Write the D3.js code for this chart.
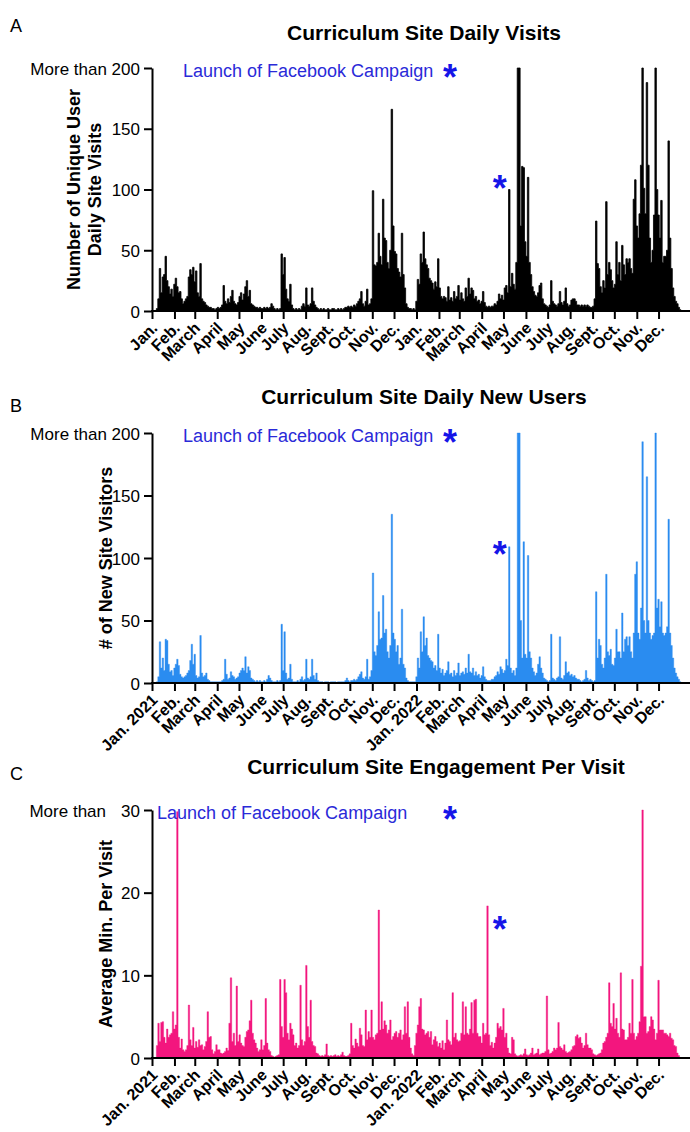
<!DOCTYPE html>
<meta charset="utf-8">
<style>
body { margin: 0; background: #fff; }
svg { display: block; }
text { font-family: "Liberation Sans", Arial, Helvetica, sans-serif; fill: #000; }
.letter { font-size: 18px; }
.title { font-size: 21px; font-weight: bold; }
.ylabel { font-size: 18px; font-weight: bold; }
.launch { font-size: 18px; fill: #2a2ad8; }
.star { font-size: 36px; font-weight: bold; fill: #1515e8; }
.yaxis text { font-size: 17px; }
.xaxis text { font-size: 16px; font-weight: bold; }
.axis path, .axis line { stroke: #000; stroke-width: 2px; }
</style>
<body>
<svg width="690" height="1132"></svg>
<script src="https://d3js.org/d3.v7.min.js"></script>
<script>

// one value per 2-day bin, starting Jan 1 2021 (365 bins)
var visits = [
  0,0,0,2,10,35,15,28,30,45,
  25,20,14,18,12,22,27,20,15,16,
  10,6,8,10,12,28,34,30,36,24,
  33,15,12,39,10,8,7,5,4,3,
  3,2,2,1,2,3,2,3,5,21,
  8,6,10,7,12,17,8,6,5,7,
  12,15,9,14,20,25,12,17,6,5,
  4,3,3,2,3,2,2,3,2,3,
  2,3,6,4,2,1,2,1,2,47,
  30,44,18,10,8,22,5,2,1,2,
  1,2,1,4,6,4,19,5,4,6,
  19,8,5,3,2,1,
  2,1,2,1,1,2,1,1,2,2,1,1,2,1,2,1,
  2,3,3,4,3,4,3,5,
  4,6,8,10,16,6,4,8,18,5,
  6,10,99,38,37,40,64,45,38,92,
  60,58,40,35,50,166,70,49,47,35,
  32,28,64,30,19,6,3,2,2,1,
  2,1,8,26,22,47,40,65,43,38,
  35,27,25,23,18,24,20,43,19,12,
  10,12,11,8,20,9,11,8,16,10,
  12,21,9,15,10,8,19,12,27,14,
  19,17,10,12,8,9,6,8,16,7,
  4,3,4,3,4,4,6,5,8,14,
  10,13,9,19,21,15,100,20,31,22,
  18,40,200,200,70,119,118,57,45,110,
  40,30,20,16,13,12,15,21,23,10,
  6,5,4,3,5,25,8,6,5,4,
  6,16,7,5,8,19,6,4,5,9,
  10,10,8,5,5,4,5,4,5,4,
  5,4,3,3,4,10,74,39,35,20,
  15,25,19,90,30,40,34,25,19,22,
  57,30,40,25,54,38,30,43,40,43,
  35,31,92,108,70,60,80,120,200,101,
  80,188,120,60,40,50,79,200,100,79,
  60,91,40,45,45,50,140,60,35,19,
  12,8,6,3,1
];

var newUsers = [
  0,0,0,1,5,33,12,20,10,35,
  34,15,9,10,6,12,15,19,14,7,
  5,4,5,6,8,10,18,31,15,23,
  6,4,5,38,8,5,6,8,3,2,
  1,1,1,1,1,1,1,1,2,3,
  19,7,3,4,9,6,5,3,4,5,
  8,10,12,10,21,8,13,10,4,3,
  2,1,2,1,2,1,1,2,1,3,
  6,4,2,1,1,1,2,1,2,47,
  10,41,8,3,4,15,3,1,1,1,
  2,1,3,5,2,3,19,4,3,5,
  19,6,3,8,2,1,
  1,1,0,1,1,1,0,1,1,1,1,0,1,1,1,1,
  1,2,4,2,1,2,2,3,
  2,3,5,7,9,4,3,5,19,3,
  5,10,88,25,22,30,57,35,36,70,
  40,43,25,20,30,135,40,35,25,30,
  15,20,59,15,12,4,2,1,1,1,
  1,1,5,20,12,41,25,53,30,36,
  22,20,18,17,12,14,10,39,12,8,
  11,6,8,10,17,7,8,5,10,6,
  8,16,6,8,9,7,12,8,23,9,
  8,12,6,9,6,7,4,6,13,5,
  3,2,2,2,3,3,5,6,9,7,
  13,11,8,10,19,14,109,12,8,10,
  6,12,200,200,50,20,113,23,20,102,
  25,20,12,9,6,8,15,21,12,8,
  4,3,2,1,2,39,4,3,2,4,
  5,37,4,3,6,17,8,9,6,7,
  5,6,4,3,3,2,1,2,3,10,
  4,2,3,2,1,2,73,20,35,30,
  15,12,20,87,25,22,27,15,14,20,
  43,25,25,20,56,25,35,37,30,37,
  25,20,40,87,97,40,35,60,193,50,
  40,165,50,40,35,38,40,200,60,67,
  45,65,40,38,40,45,131,40,30,20,
  12,8,5,3,1
];

var minutes = [
  0,0,0,1.5,4.2,2.0,4.3,4.4,2.5,1.8,
  3.5,2.5,2.8,3.0,5.6,3.5,4.0,29.8,2.5,1.2,
  2.3,1.0,0.8,1.0,1.5,6.4,2.2,1.5,3.7,1.2,
  2.0,1.3,2.2,1.5,1.6,1.0,1.4,2.0,5.6,2.5,
  2.6,1.0,0.5,0.8,1.6,1.0,1.0,0.6,0.5,0.6,
  0.8,1.2,0.9,4.2,9.7,2.0,3.0,1.5,8.7,2.0,
  2.8,1.8,1.5,1.4,2.5,3.2,3.4,4.5,7.0,3.0,
  2.2,1.8,1.2,0.8,1.0,2.2,1.0,1.5,7.2,1.8,
  1.0,0.8,0.3,0.2,0.1,0.2,0.3,0.4,9.5,3.8,
  2.5,9.5,7.9,3.0,2.2,4.2,3.5,2.8,1.5,1.8,
  1.2,1.5,8.8,2.2,1.5,2.0,11.2,3.8,2.5,7.0,
  2.0,1.5,1.4,0.6,0.5,0.3,
  0.2,0.3,0.2,0.4,1.7,0.3,0.2,0.3,0.2,0.3,0.4,0.2,0.3,0.2,0.4,0.7,
  0.3,0.2,0.2,0.3,0.5,4.2,1.5,1.2,
  2.3,1.8,1.4,3.6,2.8,1.5,1.4,5.8,2.2,3.2,
  2.5,5.8,2.5,2.2,2.8,3.0,17.9,3.4,6.8,3.5,
  4.5,4.0,3.0,3.4,4.6,2.2,2.6,3.0,3.2,2.5,
  3.0,3.4,2.2,2.8,6.2,3.0,6.8,2.5,1.2,0.5,
  0.3,1.5,3.0,4.0,6.2,7.2,3.5,3.4,2.8,3.0,
  3.2,2.5,3.2,1.6,2.2,2.6,2.0,1.4,1.8,1.2,
  2.1,1.0,1.8,4.6,2.2,2.0,1.6,7.9,2.5,3.0,
  2.2,2.0,2.1,3.0,6.8,2.8,6.2,3.0,2.8,3.5,
  6.7,3.0,7.0,7.1,3.0,2.6,2.6,1.8,4.2,2.8,
  3.0,18.4,2.8,1.5,1.9,1.2,1.8,2.5,4.2,3.6,
  3.8,3.4,6.0,2.5,3.0,1.2,0.6,0.5,2.5,2.2,
  0.5,0.3,0.2,0.3,0.4,0.3,0.5,1.1,0.4,0.3,
  0.4,0.6,1.2,0.4,0.5,0.6,1.1,0.4,0.5,0.6,
  0.6,0.8,7.5,1.0,0.5,0.6,0.8,1.2,1.0,1.2,
  4.3,1.4,1.2,1.0,1.6,0.8,0.6,0.7,0.8,1.0,
  1.4,1.5,2.6,2.8,2.4,2.5,1.8,1.2,1.5,3.0,
  1.6,1.2,1.2,1.0,0.5,0.4,0.3,0.4,0.5,0.6,
  1.0,1.8,2.0,2.5,3.0,9.1,4.2,3.8,6.6,3.5,
  4.8,3.0,2.5,10.3,3.5,3.4,2.2,2.2,2.5,4.2,
  3.0,9.5,3.0,2.2,2.6,3.0,4.4,11.1,30,5.0,
  5.0,3.0,3.2,3.8,5.0,4.6,3.5,2.2,3.0,9.4,
  3.4,3.4,3.4,3.0,3.0,2.8,2.6,3.0,2.4,2.2,
  1.5,1.4,0.6,0.3,0
];

var monthsA = ["Jan.","Feb.","March","April","May","June","July","Aug.","Sept.","Oct.","Nov.","Dec.",
               "Jan.","Feb.","March","April","May","June","July","Aug.","Sept.","Oct.","Nov.","Dec."];
var monthsBC = ["Jan. 2021","Feb.","March","April","May","June","July","Aug.","Sept.","Oct.","Nov.","Dec.",
                "Jan. 2022","Feb.","March","April","May","June","July","Aug.","Sept.","Oct.","Nov.","Dec."];
var ticksCount = [0, 50, 100, 150, 200];
var ticksMin = [0, 10, 20, 30];
var launchDate = new Date(2022, 3, 26);
var launchValues = [107, 109, 16.4];

var svg = d3.select("svg");
var start = new Date(2021, 0, 1), end = new Date(2023, 0, 1);
var binDays = 2;

var x = d3.scaleTime().domain([start, end]).range([152, 681]);
var monthTicks = d3.timeMonth.range(start, end);

function drawPanel(p) {
  var g = svg.append("g");
  var y = d3.scaleLinear().domain([0, p.max]).range([p.bottom, p.top]);

  var pts = p.values.map(function(v, i) {
    return { date: d3.timeDay.offset(start, i * binDays), v: Math.min(v, p.max) };
  });
  pts.push({ date: end, v: pts[pts.length - 1].v });

  var area = d3.area()
      .curve(d3.curveStepAfter)
      .x(function(d) { return x(d.date); })
      .y0(y(0))
      .y1(function(d) { return y(d.v); });

  g.append("path")
      .attr("d", area(pts))
      .attr("fill", p.color)
      .attr("stroke", p.stroke)
      .attr("stroke-width", p.strokeWidth);

  // y axis
  var ya = g.append("g")
      .attr("class", "axis yaxis")
      .attr("transform", "translate(152,0)")
      .call(d3.axisLeft(y).tickValues(p.ticks).tickSize(8).tickSizeOuter(0).tickPadding(4)
        .tickFormat(function(d) { return d === 200 ? "More than 200" : d; }));
  ya.selectAll("text").attr("dy", "0.36em");

  // x axis, line runs past the last month
  var xa = g.append("g")
      .attr("class", "axis xaxis")
      .attr("transform", "translate(0," + p.bottom + ")")
      .call(d3.axisBottom(x).tickValues(monthTicks).tickSize(8).tickSizeOuter(0).tickFormat(""));
  xa.select(".domain").remove();
  xa.append("line").attr("x1", 151).attr("x2", 690).attr("y1", 0).attr("y2", 0);
  xa.selectAll(".tick").append("text")
      .attr("text-anchor", "end")
      .attr("transform", "translate(6,18) rotate(-45)")
      .text(function(d, i) { return p.months[i]; });

  g.append("text").attr("class", "letter").attr("x", 10).attr("y", p.letterY).text(p.letter);
  g.append("text").attr("class", "title").attr("x", p.titleX).attr("y", p.titleY)
      .attr("text-anchor", "middle").text(p.title);

  p.ylabel.forEach(function(line, k) {
    g.append("text").attr("class", "ylabel")
        .attr("transform", "translate(" + p.ylabelX[k] + "," + (p.top + p.bottom) / 2 + ") rotate(-90)")
        .attr("text-anchor", "middle")
        .text(line);
  });

  g.append("text").attr("class", "launch").attr("x", p.launchX).attr("y", p.top + 9)
      .text("Launch of Facebook Campaign");
  g.append("text").attr("class", "star").attr("text-anchor", "middle")
      .attr("x", 450).attr("y", p.top + 22).text("*");
  g.append("text").attr("class", "star").attr("text-anchor", "middle")
      .attr("x", x(launchDate)).attr("y", y(p.launchValue) + 20).text("*");
  return g;
}

drawPanel({
  values: visits, max: 200, ticks: ticksCount, top: 68, bottom: 311,
  color: "#000", stroke: "#000", strokeWidth: 0.8, months: monthsA,
  letter: "A", letterY: 32, title: "Curriculum Site Daily Visits", titleX: 424, titleY: 40,
  ylabel: ["Number of Unique User", "Daily Site Visits"], ylabelX: [80, 101],
  launchX: 183, launchValue: launchValues[0]
});

drawPanel({
  values: newUsers, max: 200, ticks: ticksCount, top: 433, bottom: 683,
  color: "#2a8cf0", stroke: "#2a8cf0", strokeWidth: 0.4, months: monthsBC,
  letter: "B", letterY: 412, title: "Curriculum Site Daily New Users", titleX: 424, titleY: 404,
  ylabel: ["# of New Site Visitors"], ylabelX: [112],
  launchX: 183, launchValue: launchValues[1]
});

var pc = drawPanel({
  values: minutes, max: 30, ticks: ticksMin, top: 810, bottom: 1058,
  color: "#f3167e", stroke: "#f3167e", strokeWidth: 0.4, months: monthsBC,
  letter: "C", letterY: 780, title: "Curriculum Site Engagement Per Visit", titleX: 436, titleY: 774,
  ylabel: ["Average Min. Per Visit"], ylabelX: [112],
  launchX: 157, launchValue: launchValues[2]
});
pc.append("text").attr("x", 106).attr("y", 817).attr("text-anchor", "end")
    .style("font-size", "17px").text("More than");

</script>
</body>
